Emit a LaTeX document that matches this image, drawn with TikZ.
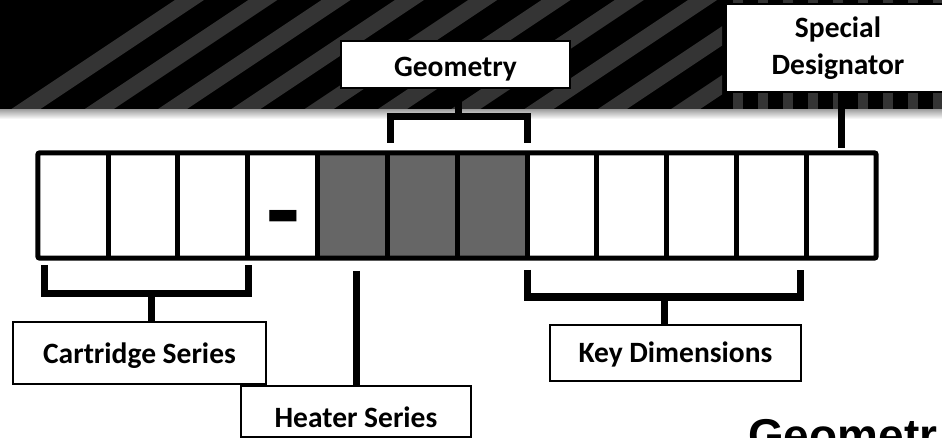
\documentclass[tikz,border=0pt]{standalone}
\usepackage{fontspec}
\setmainfont{Carlito}
\newfontfamily\arialfont{Liberation Sans}
\usetikzlibrary{calc}
\definecolor{stripe}{HTML}{343434}
\definecolor{cellgray}{HTML}{666666}
\begin{document}
\begin{tikzpicture}[x=1pt,y=-1pt,
  lbl/.style={draw=black, line width=1.5pt, fill=white, inner sep=0pt,
    font=\bfseries\fontsize{29.5}{37}\selectfont, align=center},
  cell/.style={minimum width=69.833pt, minimum height=105pt, inner sep=0pt},
  brk/.style={line width=7pt},
  cellline/.style={line width=5pt}]
\useasboundingbox (0,0) rectangle (942,438);
% dark band with stripes
\fill[black] (0,0) rectangle (942,110);
\begin{scope}
  \clip (0,0) rectangle (722,110);
  \foreach \k in {0,...,10} {
    \fill[stripe] ({10+73.3*\k},110) -- ({39+73.3*\k},110) -- ({204+73.3*\k},0) -- ({175+73.3*\k},0) -- cycle;
  }
\end{scope}
\foreach \k in {0,...,8} {
  \fill[stripe] ({733+25*\k},0) rectangle ({743+25*\k},110);
}
\shade[top color=black!35, bottom color=white] (0,110) rectangle (942,119);
% cells
\foreach \i in {1,...,12} {
  \node[cell] (c\i) at ({38+69.833*(\i-0.5)},205.5) {};
}
\fill[cellgray] (c5.north west) rectangle (c7.south east);
\foreach \i in {1,...,11} {
  \draw[cellline] (c\i.north east) -- (c\i.south east);
}
\draw[cellline, rounded corners=2pt] (c1.north west) rectangle (c12.south east);
\node[font=\bfseries\fontsize{110}{110}\selectfont, inner sep=0pt, anchor=base] (dash) at (283.5,248) {-};
% brackets
\coordinate (cbL) at (44,265);
\coordinate (cbR) at (248,265);
\coordinate (cbM) at (151,293.5);
\coordinate (gbL) at (390,143);
\coordinate (gbR) at (527,143);
\coordinate (gbM) at (458,117);
\coordinate (kbL) at (527.5,270);
\coordinate (kbR) at (800.5,270);
\coordinate (kbM) at (664.5,297);
\coordinate (sd) at (841,148);
\coordinate (hs) at (356.5,271);
% label boxes
\node[lbl, minimum width=229pt, minimum height=47pt, text height=25pt, text depth=0pt] (geom) at (455.5,64.5) {Geometry};
\node[lbl, minimum width=224pt, minimum height=88pt, text height=54pt, text depth=0pt] (spec) at (838,48) {Special\\Designator};
\node[lbl, minimum width=253pt, minimum height=62pt, text height=20pt, text depth=0pt] (cart) at (139.5,353) {Cartridge Series};
\node[lbl, minimum width=230pt, minimum height=51pt, text height=31pt, text depth=0pt] (heat) at (356,411.5) {Heater Series};
\node[lbl, minimum width=251pt, minimum height=56pt, text height=18pt, text depth=0pt] (key) at (675.5,353) {Key Dimensions};
% connectors
\draw[brk] (cbL) |- (cbM) -| (cbR);
\draw[brk] (cbM) -- (cbM |- cart.north);
\draw[brk] (gbL) |- (gbM) -| (gbR);
\draw[brk] (gbM) -- (gbM |- geom.south);
\draw[brk] (kbL) |- (kbM) -| (kbR);
\draw[brk] (kbM) -- (kbM |- key.north);
\draw[brk] (sd |- spec.south) -- (sd);
\draw[brk] (hs) -- (hs |- heat.north);
% title at bottom right
\node[font=\arialfont\bfseries\fontsize{46}{46}\selectfont, anchor=base west, inner sep=0pt] (title) at (748,451) {Geometr};
\end{tikzpicture}
\end{document}
